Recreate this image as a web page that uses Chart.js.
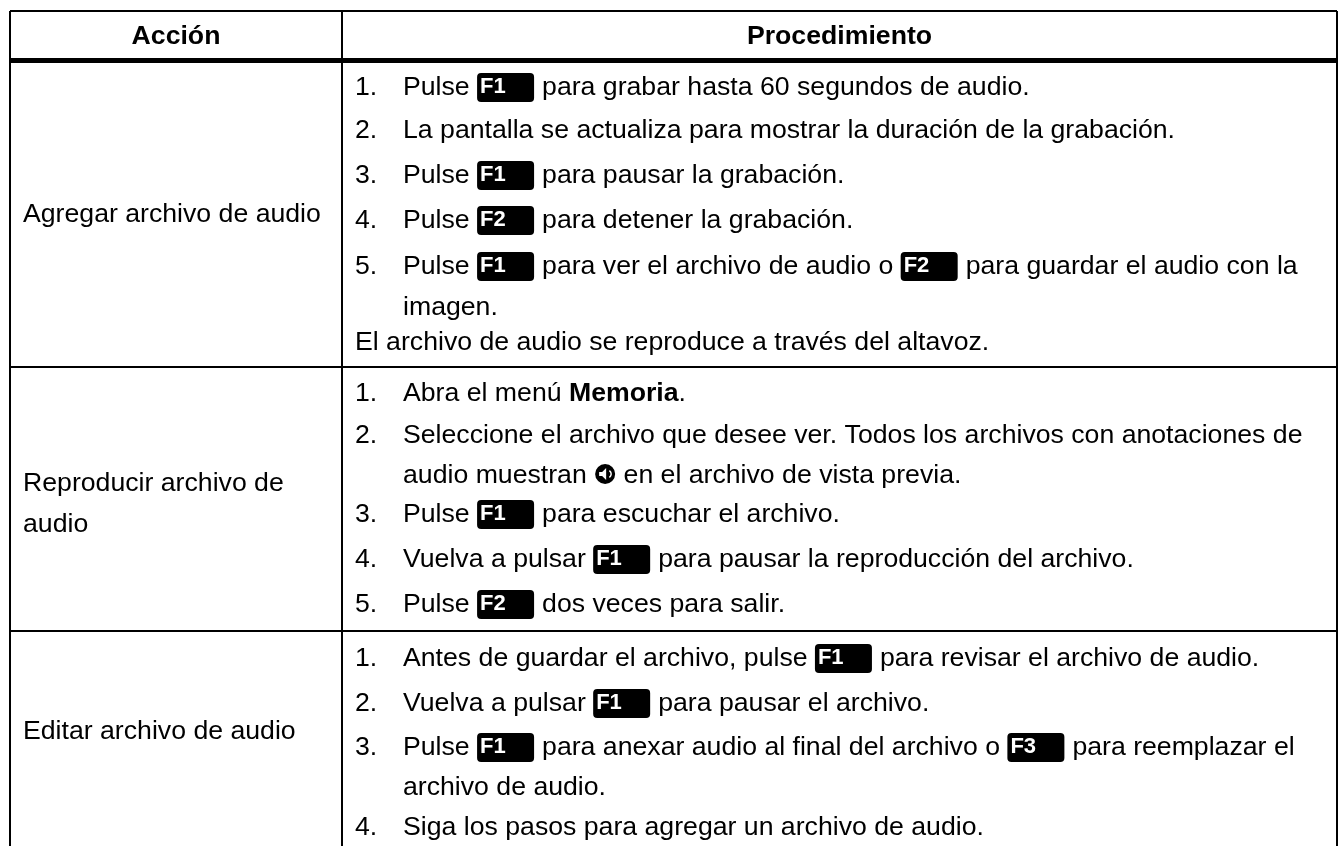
<!DOCTYPE html>
<html lang="es">
<head>
<meta charset="utf-8">
<title>Acción / Procedimiento</title>
<script src="https://cdn.jsdelivr.net/npm/chart.js@4"></script>
<style>
    html, body { margin: 0; padding: 0; background: #fff; overflow: hidden; }
    canvas { display: block; }
</style>
</head>
<body>
<canvas id="chart-tabla" width="1339" height="846"></canvas>
<script>
// Tabla: encabezados y celdas
const encabezados = ['Acción', 'Procedimiento'];

const acciones = [
    ['Agregar archivo de audio'],
    ['Reproducir archivo de', 'audio'],
    ['Editar archivo de audio']
];

// [numero, texto] - [F1] = tecla, [spk] = icono, **x** = negrita
const pasosAgregar = [
    ['1.', 'Pulse [F1] para grabar hasta 60 segundos de audio.'],
    ['2.', 'La pantalla se actualiza para mostrar la duración de la grabación.'],
    ['3.', 'Pulse [F1] para pausar la grabación.'],
    ['4.', 'Pulse [F2] para detener la grabación.'],
    ['5.', 'Pulse [F1] para ver el archivo de audio o [F2] para guardar el audio con la'],
    ['', 'imagen.'],
    ['', 'El archivo de audio se reproduce a través del altavoz.']
];

const pasosReproducir = [
    ['1.', 'Abra el menú **Memoria**.'],
    ['2.', 'Seleccione el archivo que desee ver. Todos los archivos con anotaciones de'],
    ['', 'audio muestran [spk] en el archivo de vista previa.'],
    ['3.', 'Pulse [F1] para escuchar el archivo.'],
    ['4.', 'Vuelva a pulsar [F1] para pausar la reproducción del archivo.'],
    ['5.', 'Pulse [F2] dos veces para salir.']
];

const pasosEditar = [
    ['1.', 'Antes de guardar el archivo, pulse [F1] para revisar el archivo de audio.'],
    ['2.', 'Vuelva a pulsar [F1] para pausar el archivo.'],
    ['3.', 'Pulse [F1] para anexar audio al final del archivo o [F3] para reemplazar el'],
    ['', 'archivo de audio.'],
    ['4.', 'Siga los pasos para agregar un archivo de audio.']
];

// Posiciones (en unidades de los ejes = px)
const X_LINES = [10, 342, 1337];
const Y_LINES = [11, 60, 367, 631];
const THICK_Y = 60;
const X_LEFT_TEXT = 23;
const X_NUM = 355;
const X_TEXT = 403;
const Y_HEADER = 44;
const Y_ACCIONES = [[222], [491, 532], [739]];
const Y_AGREGAR = [95, 138, 183, 228, 274, 315, 350];
const Y_REPRODUCIR = [401, 443, 483, 522, 567, 612];
const Y_EDITAR = [666, 711, 755, 795, 835];

const FONT_FAMILY = '"Liberation Sans", Arial, sans-serif';
const FONT_SIZE = 26.67;
const KEY_W = 57;
const KEY_H = 29;

function drawKey(ctx, label, x, baseline) {
    ctx.fillStyle = '#000';
    ctx.beginPath();
    ctx.roundRect(x, baseline - 22, KEY_W, KEY_H, 4);
    ctx.fill();
    ctx.fillStyle = '#fff';
    ctx.font = `bold 22px ${FONT_FAMILY}`;
    ctx.fillText(label, x + 3, baseline - 2);
}

function drawSpeaker(ctx, x, baseline) {
    const cx = x + 10;
    const cy = baseline - 9;
    ctx.fillStyle = '#000';
    ctx.beginPath();
    ctx.arc(cx, cy, 10, 0, Math.PI * 2);
    ctx.fill();
    ctx.fillStyle = '#fff';
    ctx.beginPath();
    ctx.moveTo(cx - 6, cy - 2);
    ctx.lineTo(cx - 3, cy - 2);
    ctx.lineTo(cx + 1, cy - 6);
    ctx.lineTo(cx + 1, cy + 6);
    ctx.lineTo(cx - 3, cy + 2);
    ctx.lineTo(cx - 6, cy + 2);
    ctx.closePath();
    ctx.fill();
    ctx.strokeStyle = '#fff';
    ctx.lineWidth = 1.5;
    ctx.beginPath();
    ctx.arc(cx + 2, cy, 4, -1, 1);
    ctx.stroke();
}

// Dibuja una linea con partes de texto, teclas e iconos
function drawRich(ctx, text, x, baseline) {
    const partes = text.split(/(\[F\d\]|\[spk\]|\*\*.*?\*\*)/).filter(p => p !== '');
    const normal = `${FONT_SIZE}px ${FONT_FAMILY}`;
    const negrita = `bold ${FONT_SIZE}px ${FONT_FAMILY}`;
    let afterKey = false;

    partes.forEach(parte => {
        if (/^\[F\d\]$/.test(parte)) {
            drawKey(ctx, parte.slice(1, -1), x, baseline);
            x += KEY_W + 8;
            afterKey = true;
        } else if (parte === '[spk]') {
            drawSpeaker(ctx, x + 1, baseline);
            x += 22;
            afterKey = false;
        } else {
            const bold = parte.startsWith('**');
            const texto = afterKey ? parte.trimStart() : parte.replace(/\*\*/g, '');
            ctx.font = bold ? negrita : normal;
            ctx.fillStyle = '#000';
            ctx.fillText(texto, x, baseline);
            x += ctx.measureText(texto).width;
            afterKey = false;
        }
    });
}

const tablaPlugin = {
    id: 'tabla',
    afterDraw(chart) {
        const { ctx, scales } = chart;
        const px = v => scales.x.getPixelForValue(v);
        const py = v => scales.y.getPixelForValue(v);

        ctx.save();
        ctx.textBaseline = 'alphabetic';
        ctx.textAlign = 'left';

        // Encabezados centrados
        ctx.font = `bold ${FONT_SIZE}px ${FONT_FAMILY}`;
        ctx.fillStyle = '#000';
        ctx.textAlign = 'center';
        encabezados.forEach((titulo, i) => {
            ctx.fillText(titulo, (px(X_LINES[i]) + px(X_LINES[i + 1])) / 2, py(Y_HEADER));
        });
        ctx.textAlign = 'left';

        // Columna Accion
        ctx.font = `${FONT_SIZE}px ${FONT_FAMILY}`;
        acciones.forEach((lineas, i) => {
            lineas.forEach((linea, j) => {
                ctx.fillText(linea, px(X_LEFT_TEXT), py(Y_ACCIONES[i][j]));
            });
        });

        // Columna Procedimiento
        const bloques = [
            [pasosAgregar, Y_AGREGAR],
            [pasosReproducir, Y_REPRODUCIR],
            [pasosEditar, Y_EDITAR]
        ];
        bloques.forEach(([pasos, ys]) => {
            pasos.forEach(([num, texto], i) => {
                const sinNumero = texto.startsWith('El archivo de audio se');
                if (num) {
                    ctx.font = `${FONT_SIZE}px ${FONT_FAMILY}`;
                    ctx.fillStyle = '#000';
                    ctx.fillText(num, px(X_NUM), py(ys[i]));
                }
                drawRich(ctx, texto, px(sinNumero ? X_NUM : X_TEXT), py(ys[i]));
            });
        });

        ctx.restore();
    }
};

// Las reglas de la tabla son las lineas de rejilla de los ejes
new Chart(document.getElementById('chart-tabla'), {
    type: 'scatter',
    data: { datasets: [] },
    plugins: [tablaPlugin],
    options: {
        responsive: false,
        animation: false,
        events: [],
        layout: { padding: { left: 10, right: 2, top: 11, bottom: 0 } },
        plugins: {
            legend: { display: false },
            tooltip: { enabled: false }
        },
        scales: {
            x: {
                type: 'linear',
                min: 10,
                max: 1337,
                afterBuildTicks: scale => { scale.ticks = X_LINES.map(value => ({ value })); },
                ticks: { display: false },
                border: { display: false },
                grid: { color: '#000', lineWidth: 2, drawTicks: false }
            },
            y: {
                type: 'linear',
                reverse: true,
                min: 11,
                max: 846,
                afterBuildTicks: scale => { scale.ticks = Y_LINES.map(value => ({ value })); },
                ticks: { display: false },
                border: { display: false },
                grid: {
                    color: '#000',
                    lineWidth: c => (c.tick && c.tick.value === THICK_Y ? 5 : 2),
                    drawTicks: false
                }
            }
        }
    }
});
</script>
</body>
</html>
